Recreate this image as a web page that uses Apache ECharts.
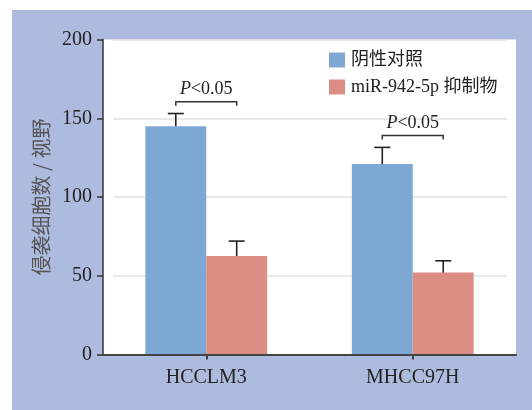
<!DOCTYPE html>
<html>
<head>
<meta charset="utf-8">
<script src="https://cdn.jsdelivr.net/npm/echarts@6/dist/echarts.min.js"></script>
<style>
  html, body { margin: 0; padding: 0; background: #ffffff; }
  #bg { position: absolute; left: 12px; top: 10px; width: 520px; height: 400px; background: #adbcde; }
  #chart { position: absolute; left: 0; top: 0; width: 532px; height: 410px; }
</style>
</head>
<body>
<div id="bg"></div>
<div id="chart"></div>
<script>
// ---- data ----
const categories = ['HCCLM3', 'MHCC97H'];
const seriesNames = ['阴性对照', 'miR-942-5p 抑制物'];
const controlValues = [145, 121];
const controlErrors = [8, 10.5];
const inhibitorValues = [62.5, 52];
const inhibitorErrors = [9.5, 7.5];
const bracketHeights = [160.5, 139];
const pLabels = ['P<0.05', 'P<0.05'];
const yTicks = [0, 50, 100, 150, 200];

const BLUE = '#7ea8d4';
const SALMON = '#dc8e84';
const CAT_GAP = 0.41;
const SERIF = '"Liberation Serif", "Times New Roman", "Noto Sans CJK SC", serif';

const chart = echarts.init(document.getElementById('chart'), null, { renderer: 'canvas' });

function barWidthFor(api) {
  const band = api.size([1, 0])[0];
  return band * (1 - CAT_GAP) / 2;
}

function errorRenderer(side) {
  return function (params, api) {
    const cat = api.value(0);
    const val = api.value(1);
    const err = api.value(2);
    const bw = barWidthFor(api);
    const base = api.coord([cat, val]);
    const top = api.coord([cat, val + err]);
    const cx = base[0] + side * bw / 2;
    const capHalf = 8;
    return {
      type: 'group',
      children: [
        { type: 'line', shape: { x1: cx, y1: base[1], x2: cx, y2: top[1] },
          style: { stroke: '#222', lineWidth: 1.6 } },
        { type: 'line', shape: { x1: cx - capHalf, y1: top[1], x2: cx + capHalf, y2: top[1] },
          style: { stroke: '#222', lineWidth: 1.6 } }
      ]
    };
  };
}

function bracketRenderer(params, api) {
  const cat = api.value(0);
  const h = api.value(1);
  const bw = barWidthFor(api);
  const p = api.coord([cat, h]);
  const x1 = p[0] - bw / 2, x2 = p[0] + bw / 2, y = p[1];
  const label = pLabels[params.dataIndex];
  return {
    type: 'group',
    children: [
      { type: 'polyline', shape: { points: [[x1, y + 4], [x1, y], [x2, y], [x2, y + 4]] },
        style: { stroke: '#333', lineWidth: 1.5, fill: null } },
      { type: 'text', x: p[0], y: y - 3,
        style: {
          text: '{i|' + label.charAt(0) + '}' + label.slice(1),
          align: 'center', verticalAlign: 'bottom',
          fontFamily: SERIF, fontSize: 18, fill: '#222',
          rich: { i: { fontStyle: 'italic', fontFamily: SERIF, fontSize: 18, fill: '#222' } }
        } }
    ]
  };
}

const option = {
  animation: false,
  grid: [
    { left: 103, right: 16, top: 39.5, bottom: 55.5, show: true, backgroundColor: '#ffffff', borderWidth: 0, z: 0 },
    { left: 113, right: 25, top: 39.5, bottom: 55.5, show: false, z: 1 }
  ],
  legend: {
    orient: 'vertical',
    left: 324, top: 46,
    itemWidth: 16, itemHeight: 15, itemGap: 9,
    icon: 'rect',
    data: seriesNames,
    textStyle: { fontFamily: SERIF, fontSize: 18, color: '#222', padding: [0, 0, 0, 1] }
  },
  xAxis: [
    {
      type: 'category', data: categories, gridIndex: 0, z: 3,
      axisLine: { show: true, lineStyle: { color: '#444', width: 2 } },
      axisTick: { show: true, alignWithLabel: true, length: 5, lineStyle: { color: '#444', width: 2 } },
      axisLabel: { fontFamily: SERIF, fontSize: 20, color: '#222', margin: 13 },
      splitLine: { show: false }
    },
    {
      type: 'category', data: categories, gridIndex: 1, show: false
    }
  ],
  yAxis: [
    {
      type: 'value', gridIndex: 0, min: yTicks[0], max: yTicks[yTicks.length - 1], interval: 50, z: 3,
      name: '侵袭细胞数 / 视野', nameLocation: 'middle', nameGap: 52, nameRotate: 90,
      nameTextStyle: { fontFamily: '"Noto Sans CJK SC", sans-serif', fontSize: 20, color: '#555' },
      axisLine: { show: true, lineStyle: { color: '#333', width: 1.5 } },
      axisTick: { show: true, length: 6, lineStyle: { color: '#333', width: 1.5 } },
      axisLabel: { fontFamily: SERIF, fontSize: 20, color: '#222', margin: 11 },
      splitLine: { show: false }
    },
    {
      type: 'value', gridIndex: 1, min: yTicks[0], max: yTicks[yTicks.length - 1], interval: 50, z: 1,
      axisLine: { show: false }, axisTick: { show: false }, axisLabel: { show: false },
      splitLine: { show: true, lineStyle: { color: '#e2e2e2', width: 1.5 } }
    }
  ],
  series: [
    {
      name: seriesNames[0], type: 'bar', xAxisIndex: 0, yAxisIndex: 0, z: 2,
      data: controlValues, barGap: 0, barCategoryGap: (CAT_GAP * 100) + '%',
      itemStyle: { color: BLUE }
    },
    {
      name: seriesNames[1], type: 'bar', xAxisIndex: 0, yAxisIndex: 0, z: 2,
      data: inhibitorValues, barGap: 0, barCategoryGap: (CAT_GAP * 100) + '%',
      itemStyle: { color: SALMON }
    },
    {
      type: 'custom', xAxisIndex: 0, yAxisIndex: 0, z: 4,
      renderItem: errorRenderer(-1),
      encode: { x: 0, y: 1 },
      data: controlValues.map((v, i) => [i, v, controlErrors[i]])
    },
    {
      type: 'custom', xAxisIndex: 0, yAxisIndex: 0, z: 4,
      renderItem: errorRenderer(1),
      encode: { x: 0, y: 1 },
      data: inhibitorValues.map((v, i) => [i, v, inhibitorErrors[i]])
    },
    {
      type: 'custom', xAxisIndex: 0, yAxisIndex: 0, z: 4,
      renderItem: bracketRenderer,
      encode: { x: 0, y: 1 },
      data: bracketHeights.map((h, i) => [i, h])
    }
  ]
};
chart.setOption(option);
</script>
</body>
</html>
